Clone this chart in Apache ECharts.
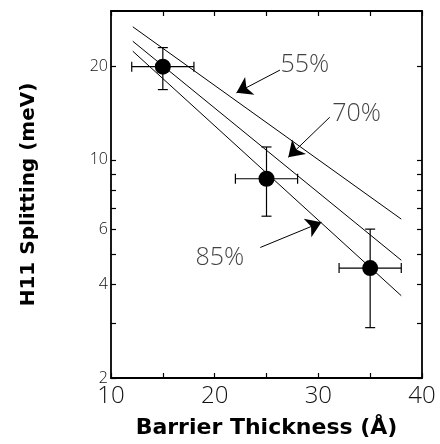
<!DOCTYPE html>
<html>
<head>
<meta charset="utf-8">
<script src="https://cdn.jsdelivr.net/npm/echarts@6/dist/echarts.min.js"></script>
<style>
  html, body { margin: 0; padding: 0; background: #fff; }
  #chart { width: 440px; height: 444px; }
</style>
</head>
<body>
<div id="chart"></div>
<script>
// --- Data ---
const thickness = [15, 25, 35];            // barrier thickness (Å)
const splitting = [19.9, 8.7, 4.5];        // H11 splitting (meV)
const thickLow = [12, 22, 32];
const thickHigh = [18, 28, 38];
const splitLow = [16.8, 6.6, 2.9];
const splitHigh = [22.9, 11.0, 6.0];

// fitted lines for the three compositions
const fitX = [12.1, 38];
const fit55 = [26.7, 6.46];
const fit70 = [24.0, 4.77];
const fit85 = [22.3, 3.67];

// annotations: label position, arrow start and arrow tip
const annoNames = ["55%", "70%", "85%"];
const annoLabelPos = [[28.7, 20.2], [33.7, 14.0], [20.5, 4.85]];
const annoArrowFrom = [[26.3, 19.4], [31.1, 13.7], [24.4, 5.24]];
const annoArrowTip = [[22.1, 16.4], [27.1, 10.2], [30.3, 6.31]];

// axis ticks
const yLabelValues = [2, 4, 6, 10, 20];
const yTickValues = [2, 3, 4, 5, 6, 7, 8, 9, 10, 20];
const xLabelValues = [10, 20, 30, 40];

const chart = echarts.init(document.getElementById("chart"), null, { renderer: "canvas" });

// --- Shared styles ---
const axisLine = { lineStyle: { color: "#000", width: 1.8 } };
const tickStyle = { inside: true, length: 5, lineStyle: { color: "#000", width: 1.2 } };
const tickFont = { color: "#111", fontFamily: "Open Sans", fontWeight: 300 };
const titleFont = { color: "#000", fontFamily: "DejaVu Sans", fontWeight: "bold", fontSize: 20 };

function fitSeries(name, ys) {
  return {
    name,
    type: "line",
    symbol: "none",
    silent: true,
    lineStyle: { color: "#000", width: 1 },
    data: fitX.map((x, i) => [x, ys[i]]),
  };
}

// --- Error bars (x and y) as a custom series ---
const errData = thickness.map((x, i) => [x, splitting[i], thickLow[i], thickHigh[i], splitLow[i], splitHigh[i]]);

function renderErr(params, api) {
  const x = api.value(0), y = api.value(1);
  const c = api.coord([x, y]);
  const left = api.coord([api.value(2), y]);
  const right = api.coord([api.value(3), y]);
  const bottom = api.coord([x, api.value(4)]);
  const top = api.coord([x, api.value(5)]);
  const cap = 5;
  const style = { stroke: "#000", lineWidth: 1.2, fill: null };
  const seg = (x1, y1, x2, y2) => ({ type: "line", shape: { x1, y1, x2, y2 }, style });
  return {
    type: "group",
    children: [
      seg(left[0], c[1], right[0], c[1]),
      seg(left[0], c[1] - cap, left[0], c[1] + cap),
      seg(right[0], c[1] - cap, right[0], c[1] + cap),
      seg(c[0], top[1], c[0], bottom[1]),
      seg(c[0] - cap, top[1], c[0] + cap, top[1]),
      seg(c[0] - cap, bottom[1], c[0] + cap, bottom[1]),
    ],
  };
}

chart.setOption({
  animation: false,
  grid: { left: 111, right: 18, top: 11, bottom: 66, outerBoundsMode: "none" },
  xAxis: [
    {
      type: "value",
      min: 10,
      max: 40,
      interval: 5,
      position: "bottom",
      axisLine,
      axisTick: tickStyle,
      splitLine: { show: false },
      axisLabel: {
        ...tickFont,
        fontSize: 24,
        margin: 6,
        formatter: (v) => (xLabelValues.includes(v) ? String(v) : ""),
      },
      name: "Barrier Thickness (Å)",
      nameLocation: "middle",
      nameGap: 39,
      nameMoveOverlap: false,
      nameTextStyle: { ...titleFont, fontSize: 22 },
    },
    {
      type: "value",
      min: 10,
      max: 40,
      interval: 5,
      position: "top",
      axisLine,
      axisTick: tickStyle,
      axisLabel: { show: false },
      splitLine: { show: false },
    },
  ],
  yAxis: [
    {
      type: "log",
      logBase: 10,
      min: 2,
      max: 30,
      position: "left",
      axisLine,
      axisTick: { ...tickStyle, customValues: yTickValues },
      axisLabel: { ...tickFont, fontSize: 16, margin: 3, customValues: yLabelValues },
      splitLine: { show: false },
      name: "H11 Splitting (meV)",
      nameLocation: "middle",
      nameGap: 72,
      nameRotate: 90,
      nameMoveOverlap: false,
      nameTextStyle: titleFont,
    },
    {
      type: "log",
      logBase: 10,
      min: 2,
      max: 30,
      position: "right",
      axisLine,
      axisTick: { ...tickStyle, customValues: yTickValues },
      axisLabel: { show: false },
      splitLine: { show: false },
    },
  ],
  series: [
    fitSeries("55% fit", fit55),
    fitSeries("70% fit", fit70),
    fitSeries("85% fit", fit85),
    {
      name: "error bars",
      type: "custom",
      renderItem: renderErr,
      data: errData,
      z: 3,
    },
    {
      name: "measured",
      type: "scatter",
      symbol: "circle",
      symbolSize: 16,
      itemStyle: { color: "#000", opacity: 1 },
      data: thickness.map((x, i) => [x, splitting[i]]),
      z: 4,
    },
    {
      name: "annotations",
      type: "scatter",
      symbolSize: 0,
      silent: true,
      data: annoLabelPos.map((p, i) => ({ value: p, name: annoNames[i] })),
      label: {
        show: true,
        position: "inside",
        formatter: (p) => p.name,
        color: "#111",
        fontFamily: "Open Sans",
        fontWeight: 300,
        fontSize: 25,
      },
      markLine: {
        silent: true,
        symbol: ["none", "arrow"],
        symbolSize: 15,
        label: { show: false },
        lineStyle: { color: "#000", width: 1, type: "solid" },
        data: annoArrowFrom.map((p, i) => [{ coord: p }, { coord: annoArrowTip[i] }]),
      },
    },
  ],
});
</script>
</body>
</html>
